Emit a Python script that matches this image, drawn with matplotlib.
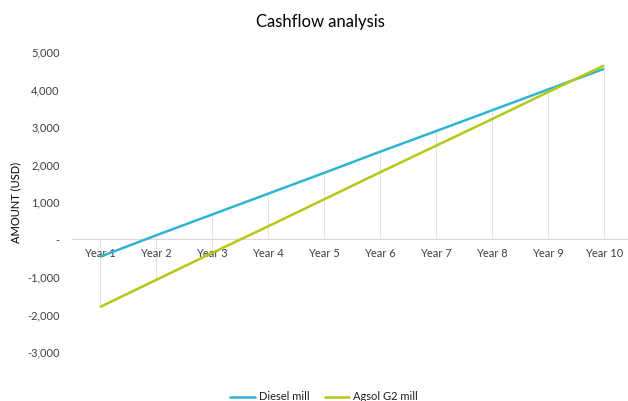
import matplotlib
matplotlib.use("Agg")
import matplotlib.pyplot as plt

years = ["Year 1", "Year 2", "Year 3", "Year 4", "Year 5",
         "Year 6", "Year 7", "Year 8", "Year 9", "Year 10"]
diesel = [-460, 110, 665, 1220, 1775, 2340, 2890, 3445, 4000, 4550]
agsol = [-1800, -1080, -360, 350, 1070, 1790, 2500, 3210, 3930, 4640]
yticks = [-3000, -2000, -1000, 0, 1000, 2000, 3000, 4000, 5000]
ytick_labels = ["-3,000", "-2,000", "-1,000", "-", "1,000", "2,000", "3,000", "4,000", "5,000"]

plt.rcParams['font.family'] = ['Lato', 'DejaVu Sans']

fig = plt.figure(figsize=(6.28, 4.01), dpi=100)
ax = fig.add_axes([72/628, 1-352/401, 560/628, 300/401])

x = list(range(len(years)))
# drop lines
for i in x:
    vals = [0, diesel[i], agsol[i]]
    ax.plot([i, i], [min(vals), max(vals)], color="#e3e3e3", lw=0.8, zorder=1)
ax.axhline(0, color="#d9d9d9", lw=0.8, zorder=1)

c1 = "#2DB5D2"
c2 = "#B7C714"
ax.plot(x, diesel, color=c1, lw=1.8, label="Diesel mill", zorder=3, solid_capstyle="butt")
ax.plot(x, agsol, color=c2, lw=1.8, label="Agsol G2 mill", zorder=3, solid_capstyle="butt")

ax.set_xlim(-0.5, 9.5)
ax.set_ylim(-3000, 5000)
ax.set_yticks(yticks)
ax.set_yticklabels(ytick_labels, fontsize=8, color="#404040")
ax.set_xticks([])
for i, lab in zip(x, years):
    ax.text(i, -230, lab, ha="center", va="top", fontsize=8, color="#404040", zorder=2)
ax.tick_params(axis="y", length=0, pad=9)
for s in ax.spines.values():
    s.set_visible(False)

ax.set_ylabel("AMOUNT (USD)", fontsize=8, color="#000000")
ax.yaxis.set_label_coords(-0.091, 0.5)

fig.text(0.51, 1-22/401, "Cashflow analysis", ha="center", va="center", fontsize=12, color="#000000")

fig.legend(loc="center", bbox_to_anchor=(0.515, 1-397/401), ncol=2, frameon=False,
           fontsize=8, handlelength=2.4, columnspacing=1.3, handletextpad=0.25,
           labelcolor="#202020")

fig.savefig("out.png", dpi=100)
